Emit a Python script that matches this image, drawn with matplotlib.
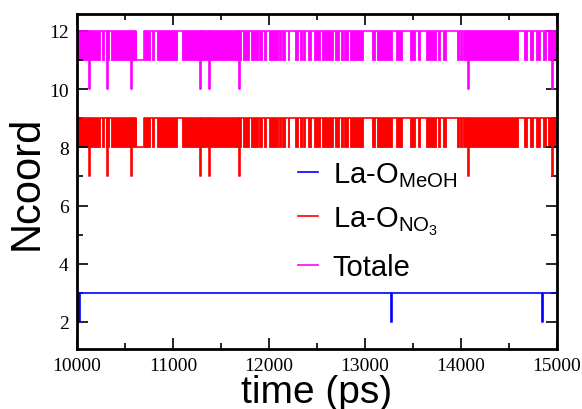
import matplotlib
matplotlib.use("Agg")
import matplotlib.pyplot as plt
from matplotlib.ticker import MultipleLocator

# ---- data (time in ps) ----
t_start, t_end = 10000, 15000

# stretches where La-O(NO3) flips quickly between 8 and 9 (Totale between 11 and 12)
fast_blocks = [(10000, 10240), (10260, 10281), (10300, 10330), (10354, 10615),
               (10698, 10760), (10781, 10802), (10833, 11042), (11094, 11708),
               (11729, 11792), (11812, 11885), (11896, 11927), (11948, 11969),
               (12000, 12094), (12104, 12125), (12135, 12167), (12198, 12208),
               (12271, 12302), (12323, 12344), (12354, 12375), (12406, 12438),
               (12469, 12531), (12552, 12667), (12688, 12729), (12750, 12771),
               (12781, 12823), (12844, 12979), (13073, 13104), (13125, 13281),
               (13323, 13385), (13469, 13521), (13552, 13573), (13635, 13740),
               (13760, 13781), (13813, 13844), (13958, 13979), (13990, 14010),
               (14021, 14594), (14656, 14688), (14719, 14750), (14781, 14823),
               (14854, 14885), (14906, 14990)]
low_stretches = [(10615, 10698)]
dip_times = [10125, 10313, 10563, 11281, 11375, 11688, 14073, 14948]
meoh_dip_times = [10025, 13271, 14844]

no3_levels = (9, 8, 7)      # high, low, dip
tot_levels = (12, 11, 10)
meoh_levels = (3, 2)

legend_labels = [r"La-O$_{\mathrm{MeOH}}$", r"La-O$_{\mathrm{NO_3}}$", "Totale"]
colors = ["#0000ff", "#ff0000", "#ff00ff"]


def step_series(base, events):
    t = [t_start]
    v = [base]
    for s, e, val in sorted(events):
        t += [s, e]
        v += [val, base]
    t.append(t_end)
    v.append(base)
    return t, v


plt.rcParams["mathtext.fontset"] = "custom"
plt.rcParams["mathtext.rm"] = "Liberation Sans"
plt.rcParams["mathtext.it"] = "Liberation Sans:italic"

fig = plt.figure(figsize=(5.82, 4.10), dpi=100)
ax = fig.add_axes([0.1323, 0.1463, 0.8247, 0.8171])

# MeOH
ev = [(d, d + 10, meoh_levels[1]) for d in meoh_dip_times]
t, v = step_series(meoh_levels[0], ev)
ax.plot(t, v, drawstyle="steps-post", color=colors[0], lw=1.2, label=legend_labels[0])

# NO3 and Totale
for levels, c, lab in [(no3_levels, colors[1], legend_labels[1]),
                       (tot_levels, colors[2], legend_labels[2])]:
    hi, lo, dip = levels
    ev = [(s, e, lo) for s, e in low_stretches]
    ev += [(d, d + 8, dip) for d in dip_times]
    t, v = step_series(hi, ev)
    ax.plot(t, v, drawstyle="steps-post", color=c, lw=1.2, label=lab)
    for s, e in fast_blocks:
        ax.fill_between([s, e], lo, hi, color=c, lw=0.6, edgecolor=c)

ax.set_xlim(t_start, t_end)
ax.set_ylim(1.07, 12.58)
ax.xaxis.set_major_locator(MultipleLocator(1000))
ax.xaxis.set_minor_locator(MultipleLocator(500))
ax.yaxis.set_major_locator(MultipleLocator(2))
ax.yaxis.set_minor_locator(MultipleLocator(1))
ax.tick_params(which="both", direction="in", top=True, right=True, width=1.2)
ax.tick_params(which="major", length=8, labelsize=14, pad=6)
ax.tick_params(which="minor", length=4)
for lbl in ax.get_xticklabels() + ax.get_yticklabels():
    lbl.set_family("Liberation Serif")
for sp in ax.spines.values():
    sp.set_linewidth(2)

ax.set_xlabel("time (ps)", fontsize=28, family="Liberation Sans", labelpad=0)
ax.set_ylabel("Ncoord", fontsize=30, family="Liberation Sans", labelpad=2)

ax.legend(loc="upper left", bbox_to_anchor=(0.46, 0.565), frameon=False,
          prop={"family": "Liberation Sans", "size": 21},
          handlelength=0.7, handletextpad=0.5, labelspacing=0.55,
          borderpad=0, borderaxespad=0)

fig.savefig("out.png", dpi=100)
